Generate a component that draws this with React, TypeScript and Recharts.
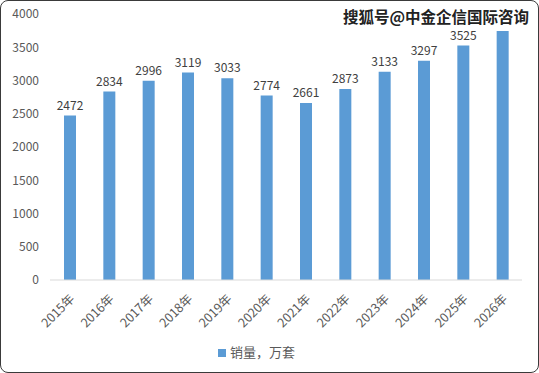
import { BarChart, Bar, XAxis, YAxis, Legend, LabelList } from "recharts";

const years = ["2015年", "2016年", "2017年", "2018年", "2019年", "2020年", "2021年", "2022年", "2023年", "2024年", "2025年", "2026年"];
const sales = [2472, 2834, 2996, 3119, 3033, 2774, 2661, 2873, 3133, 3297, 3525, 3745];
const yTicks = [0, 500, 1000, 1500, 2000, 2500, 3000, 3500, 4000];

const data = years.map((year, i) => ({ year, sales: sales[i] }));

const font = '"Noto Sans CJK SC", "Noto Sans", sans-serif';

const XTick = (props: any) => {
  const { x, y, payload } = props;
  return (
    <g transform={`translate(${x},${y + 6})`}>
      <text x={0} y={0} dy={8} textAnchor="end" fill="#595959" fontSize={12.5} fontFamily={font} transform="rotate(-45)">
        {payload.value}
      </text>
    </g>
  );
};

// the last bar's label sits under the watermark in the source, so it is not drawn
const TopLabel = (props: any) => {
  const { x, y, width, value, index } = props;
  if (index === sales.length - 1) return null;
  return (
    <text x={x + width / 2} y={y - 6} textAnchor="middle" fill="#404040" fontSize={12} fontFamily={font}>
      {value}
    </text>
  );
};

export default function App() {
  return (
    <div
      style={{
        position: "fixed",
        top: 0,
        left: 0,
        width: 539,
        height: 373,
        boxSizing: "border-box",
        border: "1px solid #3a3a3a",
        borderRadius: 8,
        background: "#fff",
        overflow: "hidden",
      }}
    >
      <BarChart width={537} height={371} data={data} margin={{ top: 13, right: 16, left: 0, bottom: 5 }} barCategoryGap="34%">
        <XAxis
          dataKey="year"
          interval={0}
          tick={<XTick />}
          tickLine={false}
          axisLine={{ stroke: "#d9d9d9" }}
          height={56}
        />
        <YAxis
          domain={[0, 4000]}
          ticks={yTicks}
          width={49}
          axisLine={false}
          tickLine={false}
          tickMargin={5}
          tick={{ fill: "#595959", fontSize: 12, fontFamily: font }}
        />
        <Legend
          verticalAlign="bottom"
          height={31}
          iconType="square"
          iconSize={8}
          wrapperStyle={{ top: 341, bottom: "auto" }}
          formatter={(v: string) => <span style={{ color: "#595959", fontSize: 13, fontFamily: font }}>{v}</span>}
        />
        <Bar dataKey="sales" name="销量，万套" fill="#5b9bd5" barSize={12} isAnimationActive={false}>
          <LabelList dataKey="sales" content={<TopLabel />} />
        </Bar>
      </BarChart>
      <div
        style={{
          position: "absolute",
          top: 5,
          right: 9,
          fontFamily: font,
          fontSize: 15.5,
          fontWeight: 700,
          color: "#222",
          whiteSpace: "nowrap",
          textShadow: "0 0 2px #fff, 0 0 2px #fff",
          lineHeight: "20px",
          letterSpacing: 0,
        }}
      >
        搜狐号@中金企信国际咨询
      </div>
    </div>
  );
}
